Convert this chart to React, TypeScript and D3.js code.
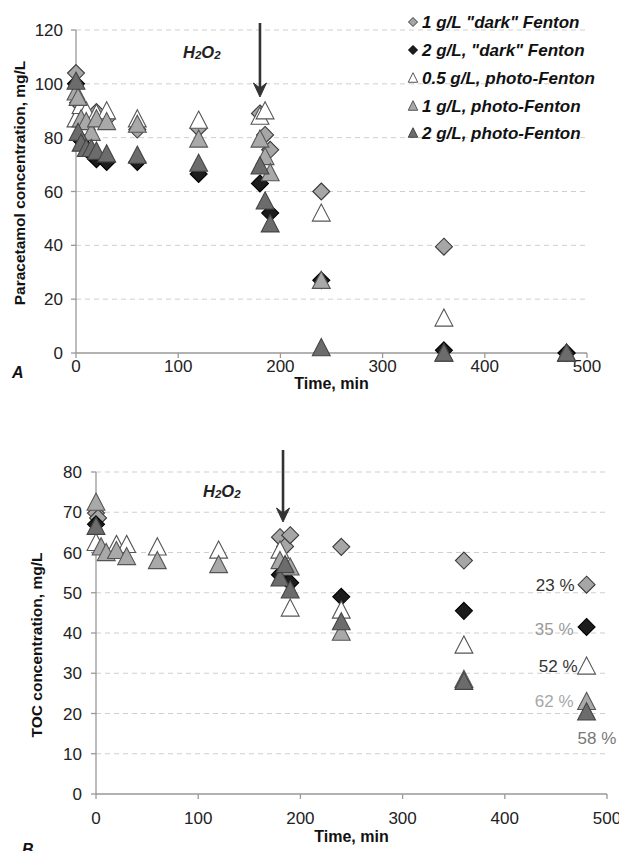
import React from "react";
import * as d3 from "d3";

// ---------- Data ----------
const seriesNames = ['1 g/L "dark" Fenton', '2 g/L, "dark" Fenton', '0.5 g/L, photo-Fenton', '1 g/L, photo-Fenton', '2 g/L, photo-Fenton'];
const seriesShapes = ["diamond", "diamond", "triangle", "triangle", "triangle"];
const seriesFills = ["#a6a6a6", "#1c1c1c", "#ffffff", "#a9a9a9", "#6c6c6c"];
const seriesStrokes = ["#3a3a3a", "#000000", "#555555", "#555555", "#444444"];

const xTicks = [0, 100, 200, 300, 400, 500];
const yTicksA = [0, 20, 40, 60, 80, 100, 120];
const yTicksB = [0, 10, 20, 30, 40, 50, 60, 70, 80];

// Panel A: paracetamol concentration
const tA1 = [0, 2, 5, 10, 20, 30, 60, 120, 180, 185, 190, 240, 360, 480];
const vA1 = [104, 93, 89, 88, 89.5, 87, 83, 83.5, 89, 81, 75.5, 60, 39.5, 0];
const tA2 = [0, 5, 10, 15, 20, 30, 60, 120, 180, 190, 240, 360, 480];
const vA2 = [100, 79, 76, 74, 72, 71, 71, 66.5, 63, 52, 27, 1, 0];
const tA3 = [0, 5, 10, 20, 30, 60, 120, 180, 185, 240, 360, 480];
const vA3 = [87, 92, 90, 89, 90, 87, 86.5, 88, 90, 52, 13, 0];
const tA4 = [0, 2, 5, 10, 15, 20, 30, 60, 120, 180, 185, 190, 240, 360, 480];
const vA4 = [97, 95, 87, 86, 82, 87, 86, 85, 79.5, 79.5, 73, 67, 27, 0, 0];
const tA5 = [0, 2, 5, 10, 15, 20, 30, 60, 120, 180, 185, 190, 240, 360, 480];
const vA5 = [101, 82, 78, 76, 76, 75, 74, 73.5, 70.5, 69.5, 56.5, 48, 2, 0, 0];

// Panel B: TOC concentration
const tB1 = [0, 2, 180, 185, 190, 240, 360, 480];
const vB1 = [69.8, 68.6, 63.8, 61.5, 64.3, 61.4, 58, 52];
const tB2 = [0, 180, 190, 240, 360, 480];
const vB2 = [67, 54.5, 52.5, 49, 45.5, 41.5];
const tB3 = [0, 20, 30, 60, 120, 180, 190, 240, 360, 480];
const vB3 = [62.5, 62, 62, 61.4, 60.6, 60.6, 46.2, 45.7, 37, 31.8];
const tB4 = [0, 5, 10, 20, 30, 60, 120, 180, 190, 240, 360, 480];
const vB4 = [72.5, 61.4, 60, 60.5, 59, 58, 57, 58, 56.4, 40.2, 28.5, 23];
const tB5 = [0, 180, 185, 190, 240, 360, 480];
const vB5 = [66.5, 53.7, 57, 50.7, 42.8, 28, 20.4];

const removalLabels = ["23 %", "35 %", "52 %", "62 %", "58 %"];
const removalColors = ["#333333", "#9a9a9a", "#333333", "#a8a8a8", "#777777"];

const FONT = "'Liberation Sans', Arial, Helvetica, sans-serif";

function markerPath(shape: string, s: number) {
  if (shape === "diamond") {
    const h = s / 2;
    return `M0,${-h}L${h},0L0,${h}L${-h},0Z`;
  }
  const w = s * 1.05;
  const ht = s * 0.95;
  return `M0,${-ht / 2 - 1}L${w / 2},${ht / 2}L${-w / 2},${ht / 2}Z`;
}

function PanelView({ p, yTitle, arrowT, h2o2X, h2o2Y, letter, letterX, letterY, xTitleY, tickLabelY, yLabelX, yTitleX, yTitleCY }: any) {
  const x = d3.scaleLinear().domain([0, 500]).range([p.x0, p.x1]);
  const y = d3.scaleLinear().domain([0, p.ymax]).range([p.y1, p.y0]);
  const ax = x(arrowT);
  return (
    <g fontFamily={FONT}>
      {p.yTicks.filter((d: number) => d > 0).map((d: number) => (
        <line key={"g" + d} x1={x(0)} x2={x(500)} y1={y(d)} y2={y(d)} stroke="#cfcfcf" strokeDasharray="5,4" strokeWidth={1} />
      ))}
      <line x1={x(0)} x2={x(500)} y1={y(0)} y2={y(0)} stroke="#999" strokeWidth={1.3} />
      <line x1={x(0)} x2={x(0)} y1={y(0)} y2={y(p.ymax)} stroke="#999" strokeWidth={1.3} />
      {p.yTicks.map((d: number) => (
        <g key={"yt" + d}>
          <line x1={x(0) - 5} x2={x(0)} y1={y(d)} y2={y(d)} stroke="#999" strokeWidth={1.3} />
          <text x={yLabelX} y={y(d)} dy="0.36em" textAnchor="end" fontSize={17} fill="#222">{d}</text>
        </g>
      ))}
      {xTicks.map((d) => (
        <g key={"xt" + d}>
          <line x1={x(d)} x2={x(d)} y1={y(0)} y2={y(0) + 5} stroke="#999" strokeWidth={1.3} />
          <text x={x(d)} y={tickLabelY} dy="0.36em" textAnchor="middle" fontSize={17} fill="#222">{d}</text>
        </g>
      ))}
      <text x={(p.x0 + p.x1) / 2} y={xTitleY} dy="0.36em" textAnchor="middle" fontSize={16} fontWeight="bold" fill="#111">Time, min</text>
      <text transform={`translate(${yTitleX},${yTitleCY}) rotate(-90)`} textAnchor="middle" dy="0.36em" fontSize={15.5} fontWeight="bold" fill="#111">{yTitle}</text>
      <text x={letterX} y={letterY} fontSize={16} fontWeight="bold" fontStyle="italic" fill="#111">{letter}</text>
      {/* H2O2 annotation */}
      <text x={h2o2X} y={h2o2Y} fontSize={16.5} fontWeight="bold" fontStyle="italic" fill="#222">
        H<tspan fontSize={11.5} dy={1}>2</tspan><tspan dy={-1}>O</tspan><tspan fontSize={11.5} dy={1}>2</tspan>
      </text>
      <line x1={ax} x2={ax} y1={p.arrowTop} y2={p.arrowBottom - 6} stroke="#333" strokeWidth={2.6} />
      <path d={`M${ax - 6.5},${p.arrowBottom - 14}L${ax},${p.arrowBottom}L${ax + 6.5},${p.arrowBottom - 14}L${ax},${p.arrowBottom - 9}Z`} fill="#333" stroke="#333" strokeWidth={1} />
      {p.series.map((s: any, i: number) => (
        <g key={"s" + i}>
          {s.t.map((t: number, j: number) => (
            <path key={j} transform={`translate(${x(t)},${y(s.v[j])})`} d={markerPath(seriesShapes[i], 17)} fill={seriesFills[i]} stroke={seriesStrokes[i]} strokeWidth={1.1} strokeLinejoin="miter" />
          ))}
        </g>
      ))}
    </g>
  );
}

export default function App() {
  const pA: any = {
    x0: 76, x1: 587, y0: 30, y1: 353, ymax: 120, yTicks: yTicksA, arrowTop: 23, arrowBottom: 97,
    series: [{ t: tA1, v: vA1 }, { t: tA2, v: vA2 }, { t: tA3, v: vA3 }, { t: tA4, v: vA4 }, { t: tA5, v: vA5 }],
  };
  const pB: any = {
    x0: 96, x1: 607, y0: 472, y1: 794, ymax: 80, yTicks: yTicksB, arrowTop: 450, arrowBottom: 522,
    series: [{ t: tB1, v: vB1 }, { t: tB2, v: vB2 }, { t: tB3, v: vB3 }, { t: tB4, v: vB4 }, { t: tB5, v: vB5 }],
  };
  const xB = d3.scaleLinear().domain([0, 500]).range([pB.x0, pB.x1]);
  const yB = d3.scaleLinear().domain([0, 80]).range([pB.y1, pB.y0]);
  const lastVals = [vB1, vB2, vB3, vB4, vB5].map((v) => v[v.length - 1]);
  const labelOffsets = [[-12, 0, "end"], [-13, 2, "end"], [-9, 0, "end"], [-13, -1, "end"], [-9, 26, "start"]];
  const legendY = [22, 50, 78, 106, 133];
  return (
    <svg width={619} height={851} style={{ position: "absolute", left: 0, top: 0, background: "#fff" }}>
      <rect width={619} height={851} fill="#fff" />
      <PanelView p={pA} yTitle="Paracetamol concentration, mg/L" arrowT={180} h2o2X={183} h2o2Y={58} letter="A" letterX={12} letterY={378} xTitleY={383} tickLabelY={366} yLabelX={63} yTitleX={19} yTitleCY={183} />
      <PanelView p={pB} yTitle="TOC concentration, mg/L" arrowT={183} h2o2X={203} h2o2Y={497} letter="B" letterX={22} letterY={855} xTitleY={836} tickLabelY={818} yLabelX={82} yTitleX={36} yTitleCY={645} />
      {/* Legend (panel A) */}
      <g fontFamily={FONT}>
        {seriesNames.map((n, i) => (
          <g key={n}>
            <path transform={`translate(${413},${legendY[i]})`} d={markerPath(seriesShapes[i], 9)} fill={seriesFills[i]} stroke={seriesStrokes[i]} strokeWidth={1} />
            <text x={422} y={legendY[i]} dy="0.36em" fontSize={17} fontWeight="bold" fontStyle="italic" fill="#111">{n}</text>
          </g>
        ))}
      </g>
      {/* TOC removal labels */}
      <g fontFamily={FONT}>
        {removalLabels.map((l, i) => {
          const o: any = labelOffsets[i];
          return (
            <text key={l} x={xB(480) + o[0]} y={yB(lastVals[i]) + o[1]} dy="0.36em" textAnchor={o[2]} fontSize={17} fill={removalColors[i]}>{l}</text>
          );
        })}
      </g>
    </svg>
  );
}
